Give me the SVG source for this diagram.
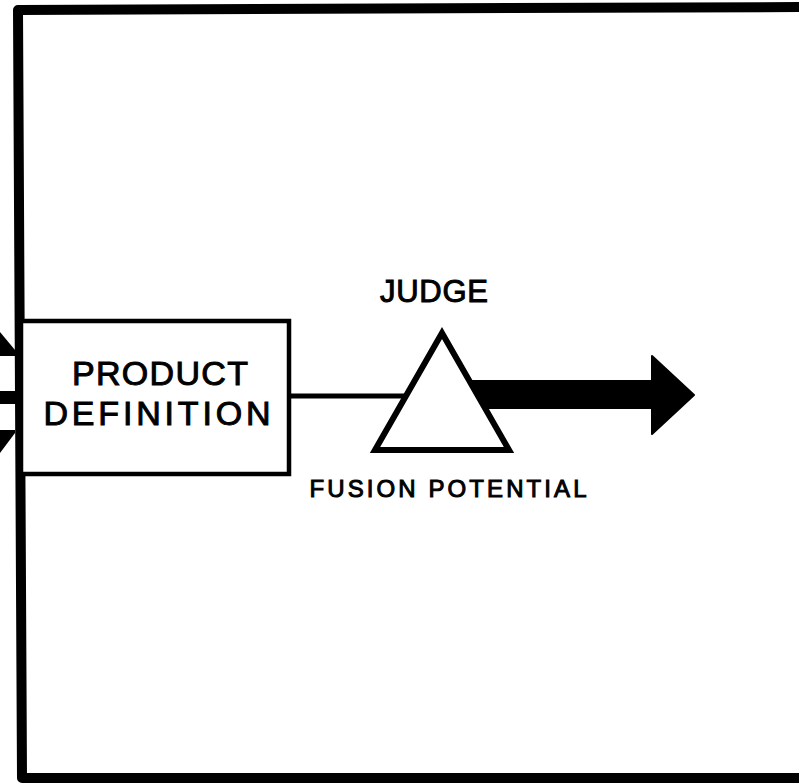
<svg xmlns="http://www.w3.org/2000/svg" width="799" height="784" viewBox="0 0 799 784">
  <style>
    .lbl { font-family: "Liberation Sans", Arial, Helvetica, sans-serif; fill: #000; stroke: #000; stroke-width: 1; text-anchor: middle; }
    .frame { fill: none; stroke: #000; stroke-width: 10; stroke-linejoin: round; }
    .box { fill: #fff; stroke: #000; stroke-width: 4.5; }
    .link { fill: none; stroke: #000; stroke-width: 5; }
    .gate { fill: #fff; stroke: #000; stroke-width: 6; stroke-linejoin: miter; }
  </style>
  <rect width="799" height="784" fill="#fff"/>

  <!-- outer enclosure, open on the right -->
  <path class="frame" d="M 799,7 L 18,10 L 22,778 L 799,778"/>

  <!-- incoming arrows entering from the left edge -->
  <g id="inputs" fill="#000">
    <polygon points="0,332 15,350 15,356 0,356"/>
    <rect x="0" y="391" width="16" height="13"/>
    <polygon points="0,430 15,430 15,433 0,453"/>
  </g>

  <g id="connectors">
    <!-- plain line from the product definition box into the judge -->
    <line class="link" x1="289" y1="396" x2="420" y2="396"/>
    <!-- bold output arrow -->
    <path fill="#000" stroke="#000" stroke-width="2" stroke-linejoin="round"
          d="M 455,381 L 652,381 L 652,356 L 694,395 L 652,434 L 652,408 L 455,408 Z"/>
  </g>

  <g id="product-definition">
    <rect class="box" x="21" y="321" width="268" height="153"/>
    <text class="lbl" x="160" y="385" font-size="34" textLength="176" lengthAdjust="spacing">PRODUCT</text>
    <text class="lbl" x="157" y="425" font-size="34" textLength="227" lengthAdjust="spacing">DEFINITION</text>
  </g>

  <g id="judge">
    <polygon class="gate" points="442,333 375,450 509,450"/>
    <text class="lbl" x="434" y="302" font-size="31" textLength="108" lengthAdjust="spacing">JUDGE</text>
    <text class="lbl" x="448" y="497" font-size="24" textLength="277" lengthAdjust="spacing">FUSION POTENTIAL</text>
  </g>
</svg>
